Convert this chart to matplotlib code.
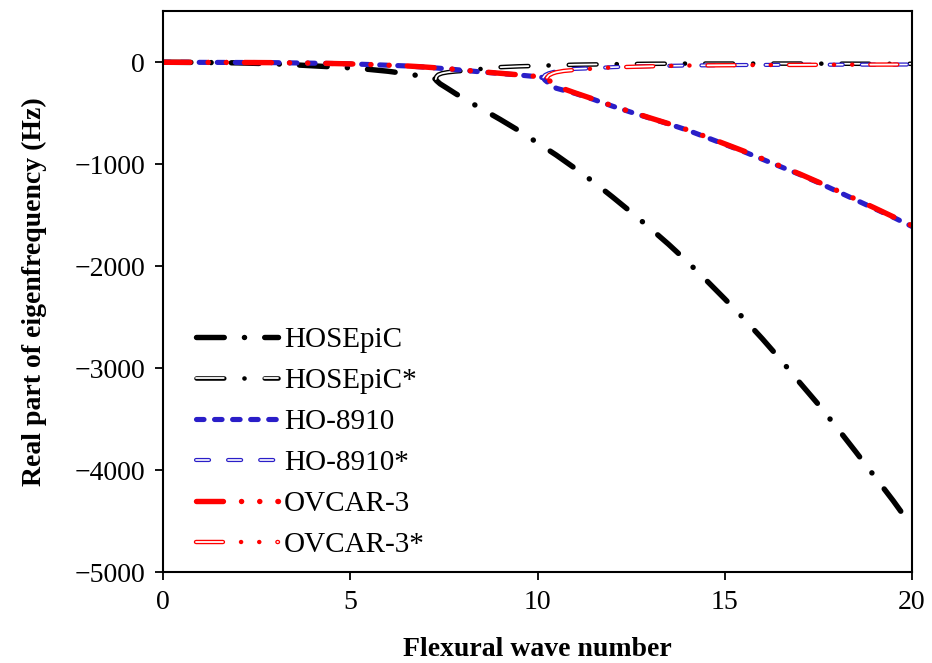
import matplotlib
matplotlib.use('Agg')
import matplotlib.pyplot as plt

plt.rcParams['font.family'] = ['Liberation Serif', 'DejaVu Serif']
plt.rcParams['lines.scale_dashes'] = False
plt.rcParams['axes.unicode_minus'] = True

# ---- data ----
hos_k = [0, 1, 2, 3, 3.5, 4, 4.5, 5, 5.5, 6, 6.5, 7, 7.28, 7.3, 7.4, 7.6, 7.8, 8.0,
         8.5, 9, 9.5, 10, 10.5, 11, 11.5, 12, 12.5, 13, 13.5, 14, 14.5, 15, 15.5,
         16, 16.5, 17, 17.5, 18, 18.5, 19, 19.5, 20]
hos_y = [0, -2, -6, -16, -25, -35, -45, -55, -70, -88, -112, -143, -165, -180, -212,
         -258, -305, -350, -455, -560, -670, -790, -910, -1040, -1175, -1320, -1470,
         -1625, -1785, -1955, -2135, -2320, -2510, -2710, -2920, -3140, -3355, -3585,
         -3820, -4060, -4300, -4555]

hos_s_k = [7.28, 7.3, 7.35, 7.45, 7.6, 7.8, 8.1, 8.5, 9, 9.5, 10, 10.5, 11, 12, 13,
           14, 15, 16, 17, 18, 19, 20]
hos_s_y = [-165, -140, -122, -108, -98, -90, -82, -65, -48, -40, -35, -29, -24, -19,
           -15, -13, -13, -13, -13, -14, -15, -15]

ho_k = [0, 1, 2, 3, 4, 4.5, 5, 5.5, 6, 6.5, 7, 7.5, 8, 8.5, 9, 9.5, 10, 10.15, 10.2,
        10.3, 10.5, 11, 11.5, 12, 12.5, 13, 13.5, 14, 14.5, 15, 15.5, 16, 16.5, 17,
        17.5, 18, 18.5, 19, 19.5, 20]
ho_y = [0, -1, -2, -4, -9, -12, -16, -22, -29, -36, -48, -62, -78, -95, -110, -125,
        -142, -150, -175, -205, -255, -305, -365, -430, -490, -548, -605, -665, -735,
        -805, -875, -950, -1025, -1100, -1180, -1265, -1350, -1435, -1520, -1610]

ho_s_k = [10.15, 10.2, 10.3, 10.5, 10.7, 11, 11.5, 12, 12.5, 13, 14, 15, 16, 17, 18,
          19, 20]
ho_s_y = [-150, -125, -108, -88, -75, -65, -58, -48, -42, -38, -32, -28, -26, -25,
          -24, -23, -22]

ov_k = [0, 1, 2, 3, 4, 4.5, 5, 5.5, 6, 6.5, 7, 7.5, 8, 8.5, 9, 9.5, 10, 10.25, 10.3,
        10.4, 10.5, 11, 11.5, 12, 12.5, 13, 13.5, 14, 14.5, 15, 15.5, 16, 16.5, 17,
        17.5, 18, 18.5, 19, 19.5, 20]
ov_y = [0, -1, -2, -4, -9, -12, -16, -22, -29, -36, -47, -60, -76, -93, -108, -123,
        -140, -152, -175, -205, -235, -300, -362, -427, -487, -545, -602, -662, -730,
        -800, -870, -945, -1020, -1095, -1175, -1258, -1343, -1428, -1515, -1602]

ov_s_k = [10.25, 10.3, 10.4, 10.5, 10.7, 11, 11.5, 12, 12.5, 13, 14, 15, 16, 17, 18,
          19, 20]
ov_s_y = [-152, -128, -110, -98, -85, -75, -62, -50, -45, -40, -32, -29, -27, -26,
          -24, -23, -22]

labels = ['HOSEpiC', 'HOSEpiC*', 'HO-8910', 'HO-8910*', 'OVCAR-3', 'OVCAR-3*']

BLUE = '#2a1ec8'
RED = '#ff0000'

# dash patterns (points)
dash_dot = (0, (20, 14.5, 0.1, 14.5))
dash_dot_in = (0, (20, 29.1))
dashed = (0, (5.4, 7.6))
dashed_long = (0, (9.4, 13.7))
dash_2dot = (0, (19.4, 13, 0.1, 13, 0.1, 13))
dash_2dot_in = (0, (19.4, 39.2))


def hollow(ax, x, y, color, ls_out, ls_in, lw_out=3.0, lw_in=1.2):
    """outlined line: coloured thick stroke with thin white core"""
    l1, = ax.plot(x, y, color=color, lw=lw_out, linestyle=ls_out,
                  dash_capstyle='round', solid_capstyle='round')
    l2, = ax.plot(x, y, color='white', lw=lw_in, linestyle=ls_in,
                  dash_capstyle='round', solid_capstyle='round')
    return (l1, l2)


fig = plt.figure(figsize=(9.32, 6.63), dpi=100)
ax = fig.add_axes([0.175, 0.137, 0.8035, 0.846])

h1, = ax.plot(hos_k, hos_y, color='black', lw=3.9, linestyle=dash_dot,
              dash_capstyle='round')
h2 = hollow(ax, hos_s_k, hos_s_y, 'black', dash_dot, dash_dot_in, 3.3, 1.3)
h3, = ax.plot(ho_k, ho_y, color=BLUE, lw=3.7, linestyle=dashed,
              dash_capstyle='round')
h4 = hollow(ax, ho_s_k, ho_s_y, BLUE, dashed_long, dashed_long, 3.0, 1.2)
h5, = ax.plot(ov_k, ov_y, color=RED, lw=3.9, linestyle=dash_2dot,
              dash_capstyle='round')
h6 = hollow(ax, ov_s_k, ov_s_y, RED, dash_2dot, dash_2dot_in, 3.2, 1.3)

ax.set_xlim(0, 20)
ax.set_ylim(-5000, 500)
ax.set_xticks([0, 5, 10, 15, 20])
ax.set_yticks([0, -1000, -2000, -3000, -4000, -5000])
ax.tick_params(direction='out', length=6, width=1.3, labelsize=20, pad=7,
               top=False, right=False)
for s in ax.spines.values():
    s.set_linewidth(1.5)

ax.set_xlabel('Flexural wave number', fontsize=20, fontweight='bold', labelpad=16)
ax.set_ylabel('Real part of eigenfrequency (Hz)', fontsize=20, fontweight='bold',
              labelpad=20)

ax.legend([h1, h2, h3, h4, h5, h6], labels, loc='center left',
          bbox_to_anchor=(0.044, 0.232), frameon=False, fontsize=21,
          handlelength=2.8, handletextpad=0.22, labelspacing=0.5,
          borderpad=0, borderaxespad=0)

fig.savefig('out.png', dpi=100)
